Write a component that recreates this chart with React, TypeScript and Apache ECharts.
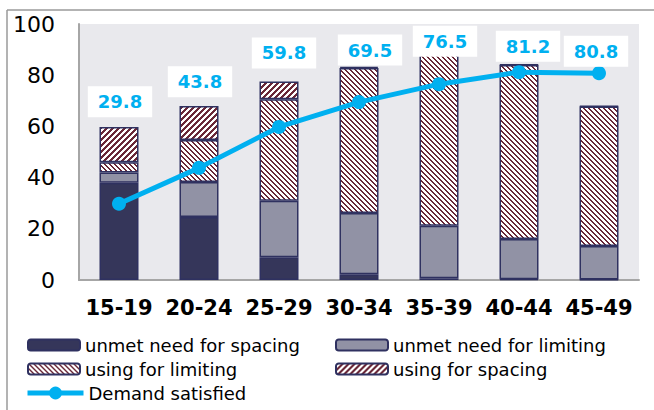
import React, { useEffect, useRef } from "react";
import * as echarts from "echarts";

const categories = ["15-19", "20-24", "25-29", "30-34", "35-39", "40-44", "45-49"];
const unmetSpacing = [38, 24.6, 8.9, 2.2, 0.7, 0.3, 0.2];
const unmetLimiting = [4, 13.7, 22.1, 24.0, 20.5, 15.7, 13.1];
const usingLimiting = [4, 16.4, 39.6, 56.6, 68.5, 68.0, 54.5];
const usingSpacing = [13.8, 13.3, 6.9, 0.5, 0.3, 0.2, 0.2];
const demandSatisfied = [29.8, 43.8, 59.8, 69.5, 76.5, 81.2, 80.8];
const yTicks = { min: 0, max: 100, interval: 20 };

// label placement (pixels, relative to each point)
const labelOffsets: [number, number][] = [
  [1, -102], [1, -86], [5, -74], [11, -52], [6, -43], [9, -26], [-3, -22],
];

const FONT = "'DejaVu Sans', Verdana, sans-serif";
const MAROON = "#6a2838";
const BORDER = "#2f3160";

function makePattern(kind: "fwd" | "back") {
  const s = kind === "fwd" ? 6 : 5;
  const dark = kind === "fwd" ? 3 : 2;
  const c = document.createElement("canvas");
  c.width = s;
  c.height = s;
  const ctx = c.getContext("2d")!;
  ctx.fillStyle = "#ffffff";
  ctx.fillRect(0, 0, s, s);
  ctx.fillStyle = MAROON;
  for (let y = 0; y < s; y++) {
    for (let k = 0; k < dark; k++) {
      const x = kind === "fwd" ? (s - 1 - y + k + s) % s : (y + k) % s;
      ctx.fillRect(x, y, 1, 1);
    }
  }
  return { image: c, repeat: "repeat", imageWidth: s, imageHeight: s } as any;
}

export default function App() {
  const ref = useRef<HTMLDivElement>(null);
  useEffect(() => {
    if (!ref.current) return;
    const chart = echarts.init(ref.current, undefined, { renderer: "svg" });
    const barCommon = {
      type: "bar",
      stack: "total",
      barWidth: 39,
      z: 2,
    };
    const legendText = { fontSize: 18, color: "#000", fontFamily: FONT, lineHeight: 20 };
    chart.setOption({
      animation: false,
      textStyle: { fontFamily: FONT },
      graphic: [
        { type: "line", shape: { x1: 7, y1: 10, x2: 654, y2: 10 }, style: { stroke: "#9a9a9a", lineWidth: 1.5 }, z: 100 },
        { type: "line", shape: { x1: 7, y1: 10, x2: 7, y2: 410 }, style: { stroke: "#9a9a9a", lineWidth: 1.5 }, z: 100 },
      ],
      grid: {
        left: 79,
        right: 15,
        top: 24,
        bottom: 130,
        show: true,
        backgroundColor: "#e9e9ed",
        borderWidth: 0,
      },
      legend: [
        {
          orient: "vertical",
          left: 27,
          top: 335,
          padding: 0,
          itemWidth: 52,
          itemHeight: 11,
          itemGap: 4,
          textStyle: legendText,
          data: ["unmet need for spacing", "using for limiting"],
        },
        {
          orient: "vertical",
          left: 335,
          top: 335,
          padding: 0,
          itemWidth: 52,
          itemHeight: 11,
          itemGap: 4,
          textStyle: legendText,
          data: ["unmet need for limiting", "using for spacing"],
        },
        {
          orient: "vertical",
          left: 25,
          top: 383,
          padding: 0,
          itemWidth: 56,
          itemHeight: 16,
          textStyle: legendText,
          data: [
            {
              name: "Demand satisfied",
              lineStyle: { width: 5, color: "#00b0f0" },
              itemStyle: { color: "#00b0f0" },
            },
          ],
        },
      ],
      xAxis: {
        type: "category",
        data: categories,
        axisLine: { show: true, lineStyle: { color: "#a6a6a6", width: 2 } },
        axisTick: { show: false },
        axisLabel: {
          interval: 0,
          fontSize: 21,
          fontWeight: "bold",
          color: "#000",
          fontFamily: FONT,
          margin: 17,
        },
      },
      yAxis: {
        type: "value",
        min: yTicks.min,
        max: yTicks.max,
        interval: yTicks.interval,
        axisLine: { show: true, lineStyle: { color: "#a6a6a6", width: 2 } },
        axisTick: { show: false },
        splitLine: { show: false },
        axisLabel: { fontSize: 22, color: "#000", fontFamily: FONT, margin: 24 },
      },
      series: [
        {
          ...barCommon,
          name: "unmet need for spacing",
          data: unmetSpacing,
          itemStyle: { color: "#35365a", borderColor: BORDER, borderWidth: 1.5 },
        },
        {
          ...barCommon,
          name: "unmet need for limiting",
          data: unmetLimiting,
          itemStyle: { color: "#9192a5", borderColor: BORDER, borderWidth: 1.5 },
        },
        {
          ...barCommon,
          name: "using for limiting",
          data: usingLimiting,
          itemStyle: { color: makePattern("back"), borderColor: BORDER, borderWidth: 1.5 },
        },
        {
          ...barCommon,
          name: "using for spacing",
          data: usingSpacing,
          itemStyle: { color: makePattern("fwd"), borderColor: BORDER, borderWidth: 1.5 },
        },
        {
          type: "line",
          name: "Demand satisfied",
          data: demandSatisfied.map((v, i) => ({
            value: v,
            label: { offset: labelOffsets[i] },
          })),
          z: 10,
          symbol: "circle",
          symbolSize: 14,
          lineStyle: { color: "#00b0f0", width: 5 },
          itemStyle: { color: "#00b0f0" },
          label: {
            show: true,
            position: "inside",
            formatter: (p: any) => Number(p.value).toFixed(1),
            fontSize: 18,
            fontWeight: "bold",
            fontFamily: FONT,
            color: "#00b0f0",
            backgroundColor: "#ffffff",
            padding: [6, 10],
            lineHeight: 19,
          },
        },
      ],
    });
    return () => chart.dispose();
  }, []);
  return (
    <div
      ref={ref}
      style={{ position: "absolute", left: 0, top: 0, width: 654, height: 410 }}
    />
  );
}
